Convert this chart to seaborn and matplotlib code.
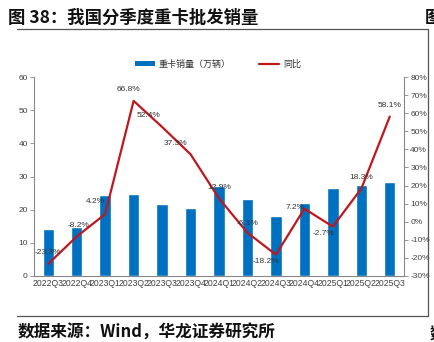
import numpy as np
import pandas as pd
import matplotlib
matplotlib.use("Agg")
import matplotlib.pyplot as plt
import seaborn as sns
from matplotlib.patches import Patch
from matplotlib.lines import Line2D

quarters = ["2022Q3", "2022Q4", "2023Q1", "2023Q2", "2023Q3", "2023Q4", "2024Q1",
            "2024Q2", "2024Q3", "2024Q4", "2025Q1", "2025Q2", "2025Q3"]
sales = [14.3, 14.9, 24.3, 24.7, 21.8, 20.4, 27.1, 23.3, 18.0, 22.0, 26.6, 27.5, 28.3]
yoy = [-23.3, -8.2, 4.2, 66.8, 52.4, 37.3, 12.9, -6.1, -18.2, 7.2, -2.7, 18.3, 58.1]
bar_label = "重卡销量（万辆）"
line_label = "同比"
title = "图 38：我国分季度重卡批发销量"
source = "数据来源：Wind，华龙证券研究所"

sns.set_theme(style="white")
plt.rcParams["font.family"] = ["Liberation Sans", "Noto Sans CJK SC", "DejaVu Sans"]

W, H = 435, 342
fig = plt.figure(figsize=(W / 100, H / 100), dpi=100)
ax = fig.add_axes([34 / W, 1 - 276 / H, 370 / W, 199 / H])

df = pd.DataFrame({"q": quarters, "v": sales})
sns.barplot(data=df, x="q", y="v", color="#0070C0", saturation=1, width=0.4, ax=ax)
ax.set_xlim(-0.5, len(quarters) - 0.5)
ax.set_ylim(0, 60)
ax.set_yticks(range(0, 61, 10))
ax.set_xlabel("")
ax.set_ylabel("")

ax2 = ax.twinx()
sns.lineplot(x=np.arange(len(quarters)), y=yoy, color="#C0171F", linewidth=1.6, ax=ax2)
ax2.set_ylim(-30, 80)
ax2.set_yticks(range(-30, 81, 10))
ax2.set_yticklabels([f"{t}%" for t in range(-30, 81, 10)])

spine_c = "#868686"
for a in (ax, ax2):
    for s in a.spines.values():
        s.set_visible(False)
    a.tick_params(labelsize=6, colors="#404040", length=3, width=0.6, color=spine_c, pad=1.5)
ax.spines["left"].set_visible(True)
ax.spines["bottom"].set_visible(True)
ax2.spines["right"].set_visible(True)
for s in (ax.spines["left"], ax.spines["bottom"], ax2.spines["right"]):
    s.set_color(spine_c)
    s.set_linewidth(0.8)
ax.tick_params(axis="x", length=0, pad=2, labelsize=6.2)
ax.set_xticks(np.arange(-0.5, len(quarters), 1), minor=True)
ax.tick_params(axis="x", which="minor", length=3, width=0.6, color=spine_c)
ax.tick_params(axis="y", left=True)
ax2.tick_params(axis="y", right=True)

offsets = [(0, 8), (1, 8), (-7, 9), (-4, 8), (-10, 8), (-11, 8), (0, 8),
           (0, 7), (-7, -5), (-7, 1), (-7, -5), (0, 8), (0, 8)]
for i, (v, (dx, dy)) in enumerate(zip(yoy, offsets)):
    ax2.annotate(f"{v:.1f}%", (i, v), xytext=(dx, dy), textcoords="offset points",
                 ha="center", va="center", fontsize=6, color="#333333")

handles = [Patch(facecolor="#0070C0", edgecolor="none"),
           Line2D([0], [0], color="#C0171F", lw=1.6)]
fig.legend(handles, [bar_label, line_label], loc="center", bbox_to_anchor=(218 / W, 1 - 64 / H),
           ncol=2, frameon=False, fontsize=6.5, handlelength=2.2, handleheight=0.5,
           columnspacing=3.2, handletextpad=0.4, labelcolor="#333333")

cjk = ["Noto Sans CJK SC", "DejaVu Sans"]
fig.text(8 / W, 1 - 18 / H, title, fontsize=12.5, fontweight="bold", family=cjk, va="center", color="#111111")
fig.text(18 / W, 1 - 333 / H, source, fontsize=12, fontweight="bold", family=cjk, va="center", color="#111111")
fig.text(425 / W, 1 - 18 / H, "图", fontsize=12, fontweight="bold", family=cjk, va="center", color="#111111")
fig.text(430 / W, 1 - 333 / H, "数", fontsize=12, fontweight="bold", family=cjk, va="center", color="#111111")

lc = "#555555"
fig.add_artist(Line2D([17 / W, 428 / W], [1 - 29 / H, 1 - 29 / H], color=lc, lw=0.9))
fig.add_artist(Line2D([17 / W, 428 / W], [1 - 316 / H, 1 - 316 / H], color=lc, lw=0.9))
fig.add_artist(Line2D([428 / W, 428 / W], [1 - 29 / H, 1 - 316 / H], color=lc, lw=0.9))

fig.savefig("out.png", dpi=100)
